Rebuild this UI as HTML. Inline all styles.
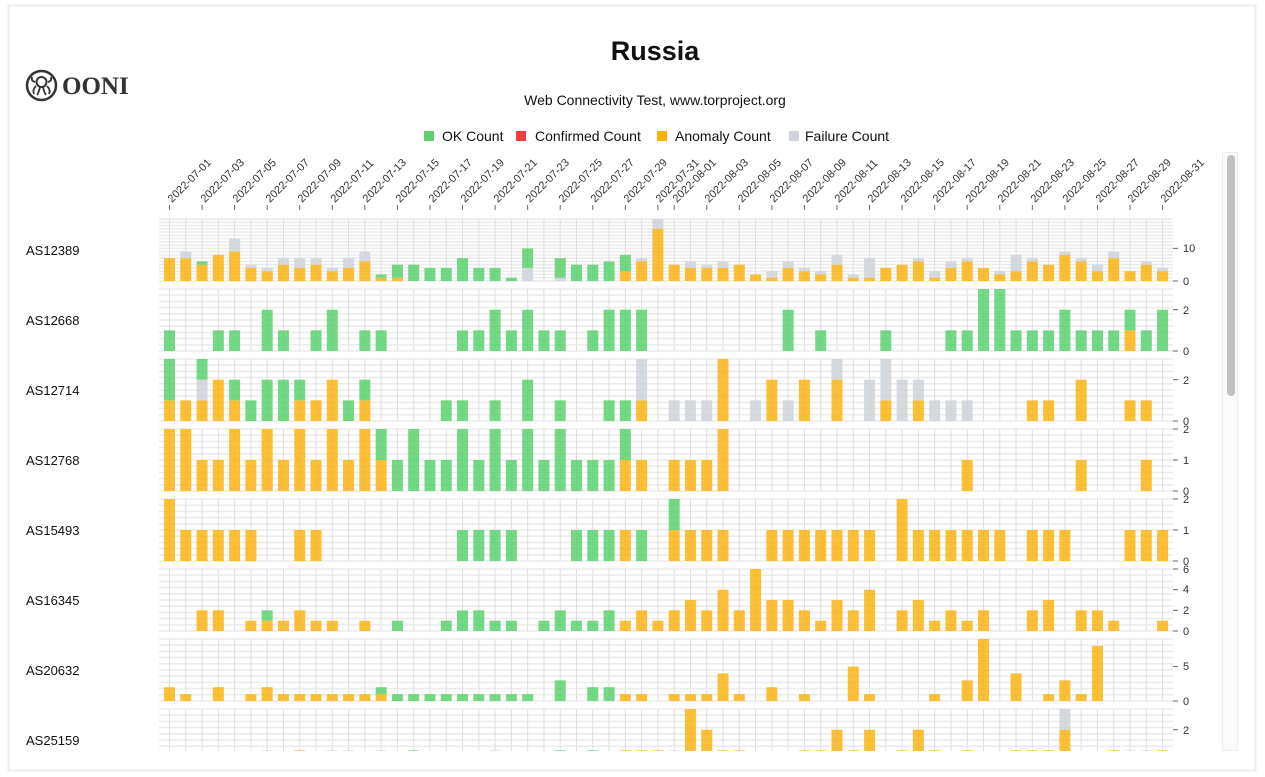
<!DOCTYPE html>
<html><head><meta charset="utf-8">
<style>
html,body{margin:0;padding:0;background:#fff;}
svg{display:block;font-family:"Liberation Sans",sans-serif;}
</style></head>
<body>
<svg id="s" width="1265" height="777" viewBox="0 0 1265 777" xmlns="http://www.w3.org/2000/svg">
<rect x="8.5" y="5.5" width="1247" height="765" fill="#fff" stroke="#ececec" stroke-width="2"/>
<text x="655" y="60" text-anchor="middle" font-size="27" font-weight="bold" fill="#111">Russia</text>
<text x="655" y="105" text-anchor="middle" font-size="14" fill="#111">Web Connectivity Test, www.torproject.org</text>
<g font-size="14" fill="#111">
<rect x="424" y="131" width="10" height="10" fill="#5fd26f"/><text x="442" y="141">OK Count</text>
<rect x="516" y="131" width="10" height="10" fill="#f03e3e"/><text x="535" y="141">Confirmed Count</text>
<rect x="657" y="131" width="10" height="10" fill="#fab005"/><text x="675" y="141">Anomaly Count</text>
<rect x="789" y="131" width="10" height="10" fill="#ced4da"/><text x="805" y="141">Failure Count</text>
</g>
<g>
<circle cx="41.5" cy="85.5" r="14.5" fill="none" stroke="#333" stroke-width="2.5"/>
<circle cx="41.5" cy="82" r="5" fill="none" stroke="#333" stroke-width="2"/>
<path d="M36 86 q-4 4 -2 8 M40 87 q-1 5 -3 8 M43 87 q1 5 3 8 M47 86 q4 4 2 8 M35 82 q-4 -1 -3 -5 M48 82 q4 -1 3 -5" fill="none" stroke="#333" stroke-width="1.8"/>
<text x="62" y="94" font-family="Liberation Serif,serif" font-weight="bold" font-size="25" fill="#333">OONI</text>
</g>
<g font-size="13" fill="#111">
<text x="26" y="255">AS12389</text>
<text x="26" y="325">AS12668</text>
<text x="26" y="395">AS12714</text>
<text x="26" y="465">AS12768</text>
<text x="26" y="535">AS15493</text>
<text x="26" y="605">AS16345</text>
<text x="26" y="675">AS20632</text>
<text x="26" y="745">AS25159</text>
</g>
<g id="grid"></g>
<g id="bars"></g>
<g id="dates" font-size="11" fill="#333">
<text transform="translate(172,203) rotate(-45)">2022-07-01</text>
<text transform="translate(205,203) rotate(-45)">2022-07-03</text>
<text transform="translate(237,203) rotate(-45)">2022-07-05</text>
<text transform="translate(270,203) rotate(-45)">2022-07-07</text>
<text transform="translate(302,203) rotate(-45)">2022-07-09</text>
<text transform="translate(335,203) rotate(-45)">2022-07-11</text>
<text transform="translate(367,203) rotate(-45)">2022-07-13</text>
<text transform="translate(400,203) rotate(-45)">2022-07-15</text>
<text transform="translate(433,203) rotate(-45)">2022-07-17</text>
<text transform="translate(465,203) rotate(-45)">2022-07-19</text>
<text transform="translate(498,203) rotate(-45)">2022-07-21</text>
<text transform="translate(530,203) rotate(-45)">2022-07-23</text>
<text transform="translate(563,203) rotate(-45)">2022-07-25</text>
<text transform="translate(595,203) rotate(-45)">2022-07-27</text>
<text transform="translate(628,203) rotate(-45)">2022-07-29</text>
<text transform="translate(660,203) rotate(-45)">2022-07-31</text>
<text transform="translate(677,203) rotate(-45)">2022-08-01</text>
<text transform="translate(709,203) rotate(-45)">2022-08-03</text>
<text transform="translate(742,203) rotate(-45)">2022-08-05</text>
<text transform="translate(774,203) rotate(-45)">2022-08-07</text>
<text transform="translate(807,203) rotate(-45)">2022-08-09</text>
<text transform="translate(839,203) rotate(-45)">2022-08-11</text>
<text transform="translate(872,203) rotate(-45)">2022-08-13</text>
<text transform="translate(905,203) rotate(-45)">2022-08-15</text>
<text transform="translate(937,203) rotate(-45)">2022-08-17</text>
<text transform="translate(970,203) rotate(-45)">2022-08-19</text>
<text transform="translate(1002,203) rotate(-45)">2022-08-21</text>
<text transform="translate(1035,203) rotate(-45)">2022-08-23</text>
<text transform="translate(1067,203) rotate(-45)">2022-08-25</text>
<text transform="translate(1100,203) rotate(-45)">2022-08-27</text>
<text transform="translate(1132,203) rotate(-45)">2022-08-29</text>
<text transform="translate(1165,203) rotate(-45)">2022-08-31</text>
</g>
<g id="ticks"></g>
<g font-size="11" fill="#333">
<text x="1183" y="252">10</text><text x="1183" y="285">0</text>
<text x="1183" y="314">2</text><text x="1183" y="355">0</text>
<text x="1183" y="384">2</text><text x="1183" y="425">0</text>
<text x="1183" y="433">2</text><text x="1183" y="464">1</text><text x="1183" y="495">0</text>
<text x="1183" y="503">2</text><text x="1183" y="534">1</text><text x="1183" y="565">0</text>
<text x="1183" y="573">6</text><text x="1183" y="593">4</text><text x="1183" y="614">2</text><text x="1183" y="635">0</text>
<text x="1183" y="670">5</text><text x="1183" y="705">0</text>
<text x="1183" y="734">2</text>
</g>
<rect x="1222.5" y="152.5" width="15" height="598" fill="#fafafa" stroke="#eee"/>
<rect x="1227" y="155" width="8" height="241" rx="4" fill="#c1c1c1"/>
<rect x="0" y="751" width="1265" height="3" fill="#fff" opacity="0"/>
</svg>
<script>
(function(){
var NS="http://www.w3.org/2000/svg";
function el(p,t,a){var e=document.createElementNS(NS,t);for(var k in a)e.setAttribute(k,a[k]);p.appendChild(e);return e;}
var grid=document.getElementById('grid'),bars=document.getElementById('bars'),ticks=document.getElementById('ticks');
var rows=[
"0:7;1:7,0,2;2:5,1;3:8;4:9,0,4;5:4,0,1;6:3,0,1;7:5,0,2;8:4,0,3;9:5,0,2;10:3,0,1;11:4,0,3;12:6,0,3;13:1,1;14:1,4;15:0,5;16:0,4;17:0,4;18:0,7;19:0,4;20:0,4;21:0,1;22:0,6,4;24:0,6,1;25:0,5;26:0,5;27:0,6;28:3,5;29:6,0,1;30:16,0,3;31:5;32:4,0,2;33:4,0,1;34:4,0,2;35:5;36:2;37:1,0,2;38:4,0,2;39:3,0,1;40:2,0,1;41:5,0,3;42:1,0,1;43:1,0,6;44:4;45:5;46:6,0,1;47:1,0,2;48:4,0,2;49:6,0,1;50:4;51:2,0,1;52:3,0,5;53:6,0,1;54:5;55:8,0,1;56:6,0,1;57:3,0,2;58:7,0,2;59:3;60:5,0,1;61:3,0,1",
"0:0,1;3:0,1;4:0,1;6:0,2;7:0,1;9:0,1;10:0,2;12:0,1;13:0,1;18:0,1;19:0,1;20:0,2;21:0,1;22:0,2;23:0,1;24:0,1;26:0,1;27:0,2;28:0,2;29:0,2;38:0,2;40:0,1;44:0,1;48:0,1;49:0,1;50:0,3;51:0,3;52:0,1;53:0,1;54:0,1;55:0,2;56:0,1;57:0,1;58:0,1;59:1,1;60:0,1;61:0,2",
"0:1,2;1:1;2:1,1,1;3:2;4:1,1;5:0,1;6:0,2;7:0,2;8:1,1;9:1;10:2;11:0,1;12:1,1;17:0,1;18:0,1;20:0,1;22:0,2;24:0,1;27:0,1;28:0,1;29:1,0,2;31:0,0,1;32:0,0,1;33:0,0,1;34:3;36:0,0,1;37:2;38:0,0,1;39:2;41:2,0,1;43:0,0,2;44:1,0,2;45:0,0,2;46:1,0,1;47:0,0,1;48:0,0,1;49:0,0,1;53:1;54:1;56:2;59:1;60:1",
"0:2;1:2;2:1;3:1;4:2;5:1;6:2;7:1;8:2;9:1;10:2;11:1;12:2;13:1,1;14:0,1;15:0,2;16:0,1;17:0,1;18:0,2;19:0,1;20:0,2;21:0,1;22:0,2;23:0,1;24:0,2;25:0,1;26:0,1;27:0,1;28:1,1;29:1;31:1;32:1;33:1;34:2;49:1;56:1;60:1",
"0:2;1:1;2:1;3:1;4:1;5:1;8:1;9:1;18:0,1;19:0,1;20:0,1;21:0,1;25:0,1;26:0,1;27:0,1;28:1;29:0,1;31:1,1;32:1;33:1;34:1;37:1;38:1;39:1;40:1;41:1;42:1;43:1;45:2;46:1;47:1;48:1;49:1;50:1;51:1;53:1;54:1;55:1;59:1;60:1;61:1",
"2:2;3:2;5:1;6:1,1;7:1;8:2;9:1;10:1;12:1;14:0,1;17:0,1;18:0,2;19:0,2;20:0,1;21:0,1;23:0,1;24:0,2;25:0,1;26:0,1;27:0,2;28:1;29:2;30:1;31:2;32:3;33:2;34:4;35:2;36:6;37:3;38:3;39:2;40:1;41:3;42:2;43:4;45:2;46:3;47:1;48:2;49:1;50:2;53:2;54:3;56:2;57:2;58:1;61:1",
"0:2;1:1;3:2;5:1;6:2;7:1;8:1;9:1;10:1;11:1;12:1;13:1,1;14:0,1;15:0,1;16:0,1;17:0,1;18:0,1;19:0,1;20:0,1;21:0,1;22:0,1;24:0,3;26:0,2;27:0,2;28:1;29:1;31:1;32:1;33:1;34:4;35:1;37:2;39:1;42:5;43:1;47:1;49:3;50:9;52:4;54:1;55:3;56:1;57:8",
"6:0,0,1;8:1;10:0,0,1;11:0,0,1;13:0,0,1;15:0,1;20:0,0,1;24:0,1;26:0,1;28:1;29:1;30:1;31:0,0,1;32:3;33:2;34:1;35:1;39:1;40:1;41:2;42:1;43:2;45:1;46:2;47:1;49:1;52:1;53:1;54:1;55:2,0,1;58:1;59:0,0,1;60:0,0,1;61:1"
];
var maxv=[19,3,3,2,2,6,9,3];
var tickv=[[0,10],[0,2],[0,2],[0,1,2],[0,1,2],[0,2,4,6],[0,5],[2]];
var H=62,CLIP=751;
function cx(n){return 169.5+16.28*n;}
// top date ticks
var idx=[];for(var i=0;i<=30;i+=2)idx.push(i);for(i=31;i<=61;i+=2)idx.push(i);
idx.forEach(function(n){el(ticks,'line',{x1:cx(n),x2:cx(n),y1:205,y2:210,stroke:'#666','stroke-width':1});});
for(var r=0;r<8;r++){
  var base=281+70*r, top=base-H;
  var sp=(r==0)?3.26:6.2;
  for(var y=base;y>=top-0.5;y-=sp){ if(y<CLIP) el(grid,'line',{x1:159,x2:1173,y1:y,y2:y,stroke:'#ececec','stroke-width':1.6});}
  for(var n=0;n<62;n++){ var yb=Math.min(base,CLIP); if(top<CLIP) el(grid,'line',{x1:cx(n),x2:cx(n),y1:top,y2:yb,stroke:'#dedede','stroke-width':1});}
  var u=H/maxv[r];
  tickv[r].forEach(function(v){var yy=base-v*u; if(yy<CLIP) el(ticks,'line',{x1:1173,x2:1178,y1:yy,y2:yy,stroke:'#666','stroke-width':1});});
  rows[r].split(';').forEach(function(s){
    var p=s.split(':'),n=+p[0],v=p[1].split(',').map(Number);
    var a=v[0]||0,o=v[1]||0,f=v[2]||0,y=base;
    [[a,'#fab005'],[f,'#ced4da'],[o,'#51cf66']].forEach(function(q){
      if(!q[0])return; var h=q[0]*u; var y0=y-h; var y1=Math.min(y,CLIP);
      if(y0<CLIP) el(bars,'rect',{x:cx(n)-5.5,y:y0,width:11,height:y1-y0,fill:q[1],'fill-opacity':(q[1]=='#ced4da'?0.85:0.8)});
      y=y0;
    });
  });
}
})();
</script>
</body></html>
